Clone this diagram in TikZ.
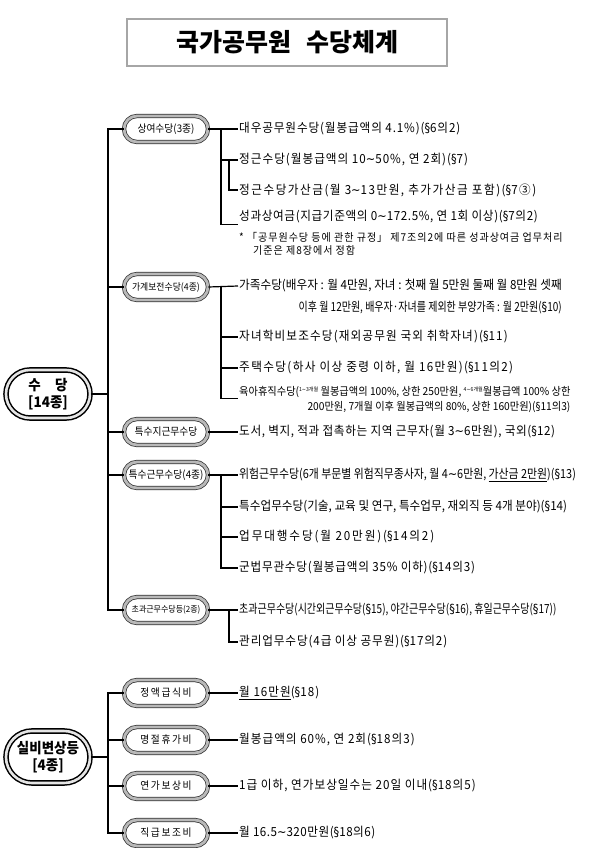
\documentclass[tikz,border=0pt]{standalone}
\usepackage{fontspec}
\setmainfont{Noto Sans CJK KR}[FakeStretch=0.93]
\newfontfamily\titlefont{Noto Sans CJK KR}
\newfontfamily\symfont{DejaVu Sans}[FakeStretch=0.9]
\usetikzlibrary{positioning, calc, shapes.misc}

\newcommand{\smallsup}[1]{\raisebox{0.6ex}{\fontsize{5.5}{6}\selectfont #1}}
\newcommand{\tld}{{\symfont ∼}}
\newcommand{\sect}{{\symfont §}}

\begin{document}
\begin{tikzpicture}[
    x=1pt, y=-1pt,
    capsule/.style={rounded rectangle, draw=black!80, line width=0.75pt, double=gray!55, double distance=2.8pt, fill=white, minimum width=86pt, minimum height=26pt, inner sep=1pt, font=\fontsize{10.5}{12}\selectfont},
    spaced/.style={font=\fontsize{10.5}{12}\selectfont\addfontfeature{LetterSpace=15}},
    mainbox/.style={rounded rectangle, draw=black, line width=1.5pt, double=gray!20, double distance=2.6pt, fill=white, minimum width=86pt, minimum height=48pt, inner sep=1pt, align=center, font=\bfseries\fontsize{14.5}{17.5}\selectfont},
    item/.style={anchor=west, inner sep=1pt, font=\fontsize{12.5}{14}\selectfont},
    letterspread/.style={font=\fontsize{12.5}{14}\selectfont\addfontfeature{LetterSpace=#1}},
    narrow/.style={font=\fontsize{12.5}{14}\selectfont\addfontfeature{FakeStretch=#1}},
    smallitem/.style={item, font=\fontsize{11}{13}\selectfont},
    note/.style={anchor=west, inner sep=1pt, font=\fontsize{10.8}{12}\selectfont\addfontfeature{LetterSpace=9}},
    link/.style={line width=1.2pt},
]
\fill[white] (0,0) rectangle (612,848);
\useasboundingbox (0,0) rectangle (612,848);

% Title
\node[draw=gray!70, line width=1.5pt, minimum width=320pt, minimum height=47pt, font=\titlefont\bfseries\fontsize{25}{28}\selectfont] (title) at (287,42.5) {국가공무원\hspace{0.6em}수당체계};

% trunk and branch columns
\coordinate (tk) at (108,0);
\coordinate (b1) at (221,0);
\coordinate (s1) at (229,0);

% Group 1: 수당
\node[mainbox] (sudang) at (48,394) {수\hspace{1em}당\\{[14종]}};
\node[capsule] (sangyeo) at (166,129) {상여수당(3종)};
\node[capsule, font=\fontsize{9.5}{11}\selectfont] (gagye) at (166,287) {가계보전수당(4종)};
\node[capsule] (teuksuji) at (166,432) {특수지근무수당};
\node[capsule] (teuksu) at (166,475) {특수근무수당(4종)};
\node[capsule, font=\fontsize{8.6}{10}\selectfont] (chogwa) at (166,610) {초과근무수당등(2종)};

\draw[link] (sangyeo.west) -- (sangyeo.west -| tk) -- (chogwa.west -| tk) -- (chogwa.west);
\foreach \n in {gagye, teuksuji, teuksu} {
    \draw[link] (\n.west) -- (\n.west -| tk);
}
\draw[link] (sudang.east) -- (sudang.east -| tk);

% 상여수당
\node[item, letterspread=7] (daewoo) at (238,129) {대우공무원수당(월봉급액의 4.1\%)(\sect6의2)};
\node[item, letterspread=8] (jeonggeun) at (238,160) {정근수당(월봉급액의 10\tld50\%, 연 2회)(\sect7)};
\node[item, letterspread=12] (gasan) at (238,190) {정근수당가산금(월 3\tld13만원, 추가가산금 포함)(\sect7③)};
\node[item, letterspread=5] (seonggwa) at (238,217) {성과상여금(지급기준액의 0\tld172.5\%, 연 1회 이상)(\sect7의2)};
\node[note] (note1) at (238,237) {* 「공무원수당 등에 관한 규정」 제7조의2에 따른 성과상여금 업무처리};
\node[note] (note2) at (252,250) {기준은 제8장에서 정함};

\draw[link] (sangyeo.east) -- (daewoo.west);
\draw[link] (sangyeo.east -| b1) -- (seonggwa.south west -| b1) -- (seonggwa.south west);
\draw[link] (jeonggeun.west -| b1) -- (jeonggeun.west);
\draw[link] (jeonggeun.west -| s1) |- (gasan.west);

% 가계보전수당
\node[item] (gajok) at (238,286) {가족수당(배우자 : 월 4만원, 자녀 : 첫째 월 5만원 둘째 월 8만원 셋째};
\node[item, narrow=0.8, below left=6pt and 0pt of gajok.south east] (gajok2) {이후 월 12만원, 배우자·자녀를 제외한 부양가족 : 월 2만원(\sect10)};
\node[item, letterspread=9] (jahak) at (238,337) {자녀학비보조수당(재외공무원 국외 취학자녀)(\sect11)};
\node[item, letterspread=11] (jutaek) at (238,368) {주택수당(하사 이상 중령 이하, 월 16만원)(\sect11의2)};
\node[smallitem] (yuga) at (238,392) {육아휴직수당(\smallsup{1\tld3개월} 월봉급액의 100\%, 상한 250만원, \smallsup{4\tld6개월}월봉급액 100\% 상한};
\node[smallitem, below left=1pt and 0pt of yuga.south east] (yuga2) {200만원, 7개월 이후 월봉급액의 80\%, 상한 160만원)(\sect11의3)};

\draw[link] (gagye.east) -- (gajok.west);
\draw[link] (gagye.east -| b1) -- (yuga.south west -| b1) -- (yuga.south west);
\foreach \n in {jahak, jutaek} {
    \draw[link] (\n.west -| b1) -- (\n.west);
}

% 특수지근무수당
\node[item, letterspread=5] (doseo) at (238,432) {도서, 벽지, 적과 접촉하는 지역 근무자(월 3\tld6만원), 국외(\sect12)};
\draw[link] (teuksuji.east) -- (doseo.west);

% 특수근무수당
\node[item, narrow=0.87] (wiheom) at (238,475) {위험근무수당(6개 부문별 위험직무종사자, 월 4\tld6만원, \underline{가산금 2만원})(\sect13)};
\node[item] (teukeop) at (238,507) {특수업무수당(기술, 교육 및 연구, 특수업무, 재외직 등 4개 분야)(\sect14)};
\node[item, letterspread=15] (daehaeng) at (238,537) {업무대행수당(월 20만원)(\sect14의2)};
\node[item, letterspread=6] (gunbeop) at (238,568) {군법무관수당(월봉급액의 35\% 이하)(\sect14의3)};

\draw[link] (teuksu.east) -- (wiheom.west);
\draw[link] (teuksu.east -| b1) -- (gunbeop.west -| b1) -- (gunbeop.west);
\foreach \n in {teukeop, daehaeng} {
    \draw[link] (\n.west -| b1) -- (\n.west);
}

% 초과근무수당등
\node[item, narrow=0.8] (chogwa1) at (238,610) {초과근무수당(시간외근무수당(\sect15), 야간근무수당(\sect16), 휴일근무수당(\sect17))};
\node[item, letterspread=7] (gwalli) at (238,642) {관리업무수당(4급 이상 공무원)(\sect17의2)};

\draw[link] (chogwa.east) -- (chogwa1.west);
\draw[link] (chogwa1.west -| s1) |- (gwalli.west);

% Group 2: 실비변상등
\node[mainbox, minimum height=52pt] (silbi) at (48,757) {실비변상등\\{[4종]}};
\node[capsule, spaced] (jeongaek) at (166,693) {정액급식비};
\node[capsule, spaced] (myeongjeol) at (166,740) {명절휴가비};
\node[capsule, spaced] (yeonga) at (166,786) {연가보상비};
\node[capsule, spaced] (jikgeup) at (166,833) {직급보조비};

\draw[link] (jeongaek.west) -- (jeongaek.west -| tk) -- (jikgeup.west -| tk) -- (jikgeup.west);
\foreach \n in {myeongjeol, yeonga} {
    \draw[link] (\n.west) -- (\n.west -| tk);
}
\draw[link] (silbi.east) -- (silbi.east -| tk);

\node[item, letterspread=8] (sikbi) at (238,693) {\underline{월 16만원}(\sect18)};
\node[item, letterspread=8] (hyuga) at (238,740) {월봉급액의 60\%, 연 2회(\sect18의3)};
\node[item, letterspread=8] (bosang) at (238,786) {1급 이하, 연가보상일수는 20일 이내(\sect18의5)};
\node[item, letterspread=4] (bojo) at (238,833) {월 16.5\tld320만원(\sect18의6)};

\foreach \c/\t in {jeongaek/sikbi, myeongjeol/hyuga, yeonga/bosang, jikgeup/bojo} {
    \draw[link] (\c.east) -- (\t.west);
}

\end{tikzpicture}
\end{document}
